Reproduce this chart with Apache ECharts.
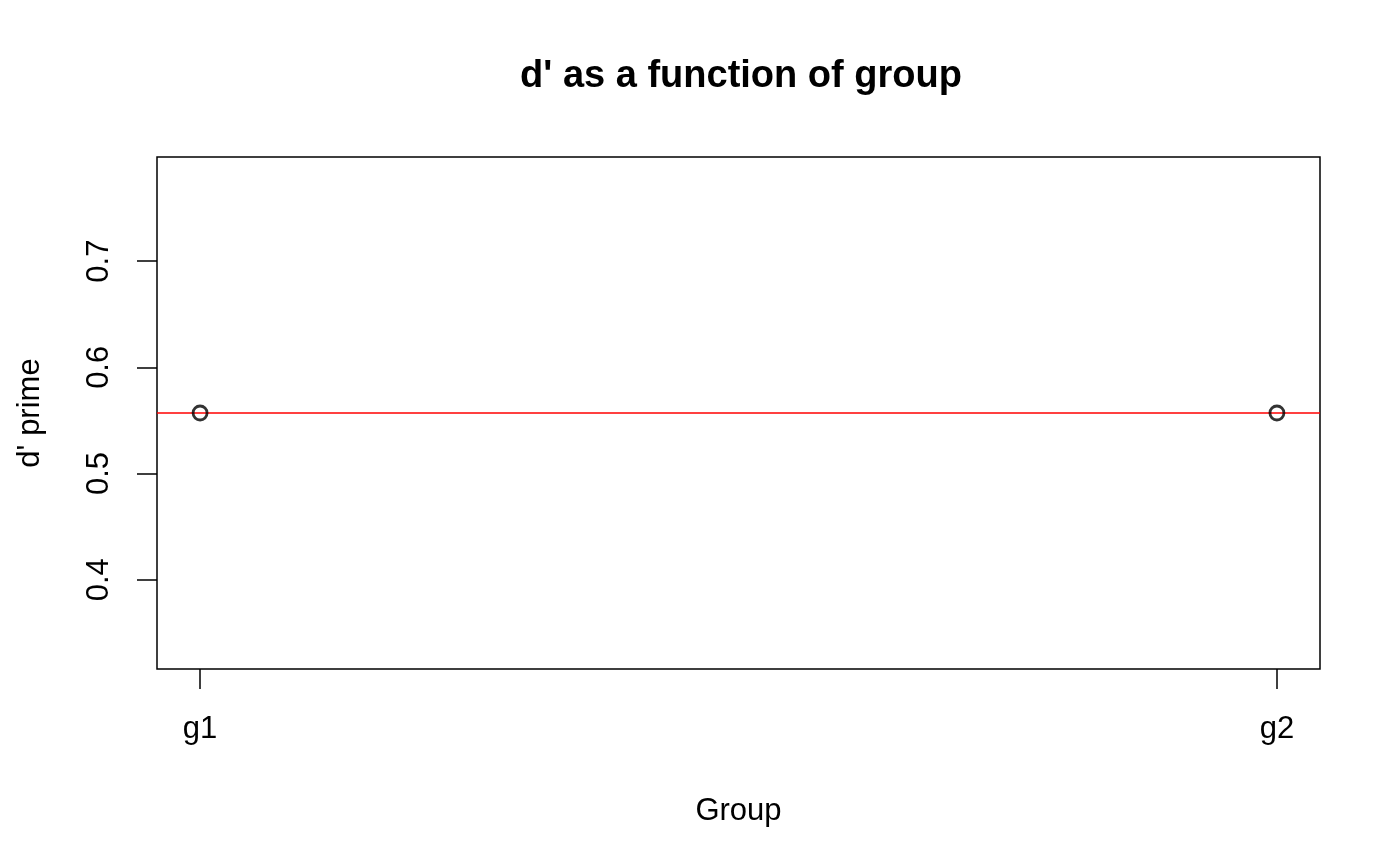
<!DOCTYPE html>
<html><head><meta charset="utf-8">
<script src="https://cdn.jsdelivr.net/npm/echarts@6/dist/echarts.min.js"></script>
<style>html,body{margin:0;padding:0;background:#fff}#c{width:1400px;height:866px}</style>
</head><body><div id="c"></div>
<script>
var groups = ['g1', 'g2'];
var groupPos = [1, 2];
var dprime = [0.557, 0.557];
var ablineValue = 0.557;
var yTicks = [0.4, 0.5, 0.6, 0.7];
var xRange = [0.96, 2.04];
var yRange = [0.316, 0.798];

var FONT = '"Liberation Sans", Arial, Helvetica, sans-serif';
var chart = echarts.init(document.getElementById('c'));
chart.setOption({
  animation: false,
  backgroundColor: '#fff',
  title: {
    text: "d' as a function of group",
    left: 736, top: 53, textAlign: 'center',
    textStyle: {fontFamily: FONT, fontSize: 38, fontWeight: 'bold', color: '#000'}
  },
  grid: {left: 157, right: 80, top: 157, bottom: 197, show: true, borderColor: '#000', borderWidth: 1.5, backgroundColor: 'transparent'},
  xAxis: {
    type: 'value', min: xRange[0], max: xRange[1],
    name: 'Group', nameLocation: 'middle', nameGap: 127,
    nameTextStyle: {fontFamily: FONT, fontSize: 31, color: '#000'},
    axisLine: {show: false},
    splitLine: {show: false},
    axisTick: {show: true, length: 20, inside: false, customValues: groupPos, lineStyle: {color: '#000', width: 1.5}},
    axisLabel: {show: true, customValues: groupPos, margin: 45, fontFamily: FONT, fontSize: 31, color: '#000',
      formatter: function (v) { return groups[groupPos.indexOf(Math.round(v))] || ''; }}
  },
  yAxis: {
    type: 'value', min: yRange[0], max: yRange[1],
    name: "d' prime", nameLocation: 'middle', nameGap: 111, nameRotate: 90,
    nameTextStyle: {fontFamily: FONT, fontSize: 31, color: '#000'},
    axisLine: {show: false},
    splitLine: {show: false},
    axisTick: {show: true, length: 20, inside: false, customValues: yTicks, lineStyle: {color: '#000', width: 1.5}},
    axisLabel: {show: true, customValues: yTicks, rotate: 90, margin: 42, fontFamily: FONT, fontSize: 31, color: '#000',
      formatter: function (v) { return v.toFixed(1); }}
  },
  series: [
    {
      type: 'line', silent: true, z: 3,
      data: [[xRange[0], ablineValue], [xRange[1], ablineValue]],
      symbol: 'none',
      lineStyle: {color: '#ff0000', width: 1.6}
    },
    {
      type: 'scatter', z: 5,
      data: groupPos.map(function (x, i) { return [x, dprime[i]]; }),
      symbol: 'circle', symbolSize: 14,
      itemStyle: {color: 'rgba(0,0,0,0)', borderColor: '#000', borderWidth: 2.8}
    }
  ]
});
</script></body></html>
